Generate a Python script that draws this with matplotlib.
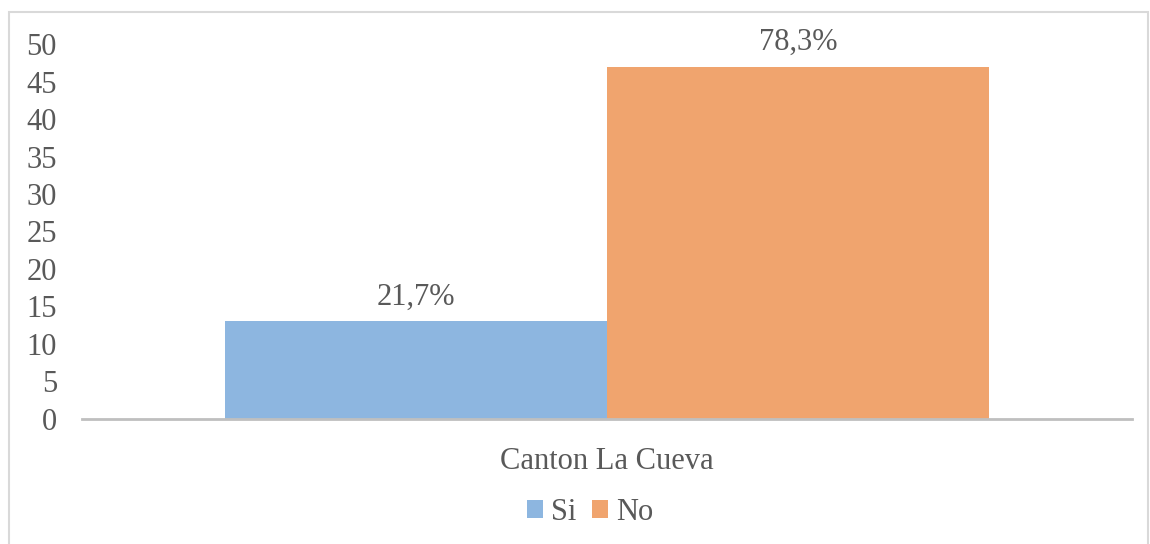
import matplotlib.pyplot as plt
from matplotlib.patches import Rectangle

# data
categories = ["Canton La Cueva"]
series_names = ["Si", "No"]
values = [13, 47]
labels = ["21,7%", "78,3%"]
colors = ["#8DB6E0", "#F0A46E"]

plt.rcParams['font.family'] = ['Liberation Serif', 'DejaVu Serif']
gray = "#595959"
fs = 22

fig = plt.figure(figsize=(11.5, 5.44), dpi=100)
ax = fig.add_axes([0.0713, 0.2298, 0.913, 0.6893])

width = 0.3638
offsets = [-width / 2, width / 2]
for name, val, lab, col, off in zip(series_names, values, labels, colors, offsets):
    ax.bar(0 + off, val, width=width, color=col, label=name, zorder=2)
    ax.annotate(lab, (0 + off, val), xytext=(0, 7), textcoords="offset points",
                ha="center", va="bottom", fontsize=fs, color=gray)

ax.set_xlim(-0.5, 0.5)
ax.set_ylim(0, 50)
ax.set_yticks(range(0, 51, 5))
ax.set_xticks([0])
ax.set_xticklabels(categories)
ax.tick_params(axis="both", length=0, labelsize=fs, labelcolor=gray)
ax.tick_params(axis="x", pad=20)
ax.tick_params(axis="y", pad=18)
for s in ["top", "right", "left"]:
    ax.spines[s].set_visible(False)
ax.spines["bottom"].set_color("#BFBFBF")
ax.spines["bottom"].set_linewidth(2)
ax.spines["bottom"].set_zorder(3)

fig.legend(loc="center", bbox_to_anchor=(0.513, 0.058), ncol=2, frameon=False,
           fontsize=fs, labelcolor=gray, handlelength=0.55, handleheight=0.55,
           handletextpad=0.25, columnspacing=0.5)

fig.patches.append(Rectangle((9 / 1150, -0.01), 1139 / 1150, 1 - 12 / 544 + 0.01,
                             transform=fig.transFigure, fill=False,
                             edgecolor="#D9D9D9", linewidth=1.5))

fig.savefig("out.png", dpi=100)
